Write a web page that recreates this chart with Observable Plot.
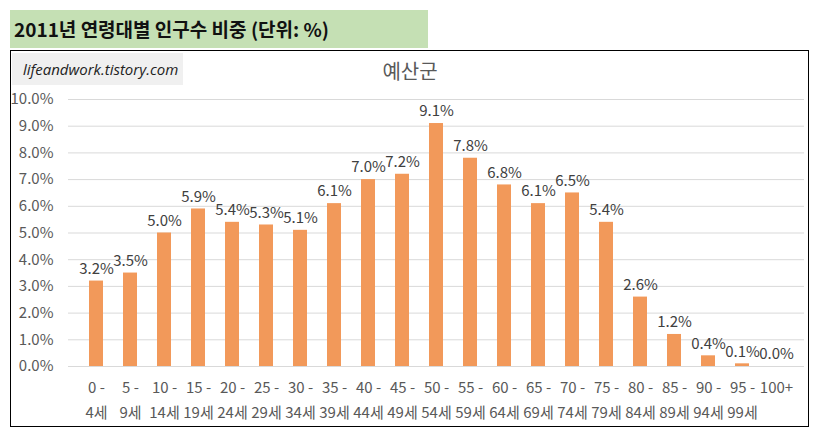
<!DOCTYPE html>
<html>
<head>
<meta charset="utf-8">
<script src="https://cdn.jsdelivr.net/npm/d3@7"></script>
<script src="https://cdn.jsdelivr.net/npm/@observablehq/plot@0.6"></script>
<style>
  html, body { margin: 0; padding: 0; background: #fff; }
  #wrap { position: relative; width: 817px; height: 433px; overflow: hidden; font-family: "Noto Sans CJK KR", "Noto Sans", sans-serif; }
  #title { position: absolute; left: 10px; top: 10px; width: 418px; height: 38px; background: #c5e0b4; font-weight: bold; font-size: 19px; color: #111; line-height: 38px; padding-left: 4px; box-sizing: border-box; }
  #frame { position: absolute; left: 10px; top: 50px; width: 799px; height: 377px; border: 1px solid #000; box-sizing: border-box; pointer-events: none; }
  #wm { position: absolute; left: 12px; top: 53px; width: 171px; height: 32px; background: #f0f0f0; font-family: "Open Sans", sans-serif; font-style: italic; font-size: 15px; color: #222; line-height: 32px; padding-left: 11px; box-sizing: border-box; white-space: nowrap; }
  #ctitle { position: absolute; left: 310px; width: 200px; top: 56px; text-align: center; font-size: 20px; color: #595959; }
  #chart { position: absolute; left: 0; top: 0; }
</style>
</head>
<body>
<div id="wrap">
  <div id="chart"></div>
  <div id="title">2011년 연령대별 인구수 비중 (단위: %)</div>
  <div id="frame"></div>
  <div id="wm">lifeandwork.tistory.com</div>
  <div id="ctitle">예산군</div>
</div>
<script>
const ageGroups = ["0 -\n4세","5 -\n9세","10 -\n14세","15 -\n19세","20 -\n24세","25 -\n29세","30 -\n34세","35 -\n39세","40 -\n44세","45 -\n49세","50 -\n54세","55 -\n59세","60 -\n64세","65 -\n69세","70 -\n74세","75 -\n79세","80 -\n84세","85 -\n89세","90 -\n94세","95 -\n99세","100+"];
const shares = [3.2,3.5,5.0,5.9,5.4,5.3,5.1,6.1,7.0,7.2,9.1,7.8,6.8,6.1,6.5,5.4,2.6,1.2,0.4,0.1,0.0];
const yTicks = [0,1,2,3,4,5,6,7,8,9,10];

const data = ageGroups.map((g, i) => ({group: g, value: shares[i]}));

const chart = Plot.plot({
  width: 817,
  height: 433,
  marginLeft: 68,
  marginRight: 13,
  marginTop: 99,
  marginBottom: 67,
  style: {fontFamily: '"Noto Sans CJK KR", "Noto Sans", sans-serif', fontSize: "15px", color: "#595959", background: "transparent"},
  x: {domain: ageGroups, padding: 0.6, label: null},
  y: {domain: [0, 10], label: null},
  marks: [
    Plot.gridY(yTicks, {stroke: "#d9d9d9", strokeOpacity: 1, strokeWidth: 1}),
    Plot.barY(data, {x: "group", y: "value", fill: "#f2995a"}),
    Plot.text(data, {x: "group", y: "value", text: d => d.value.toFixed(1) + "%", dy: -12, fill: "#404040", fontSize: 15}),
    Plot.axisY(yTicks, {tickSize: 0, tickPadding: 15, tickFormat: d => d.toFixed(1) + "%", fill: "#595959", fontSize: 15}),
    Plot.axisX({tickSize: 0, tickPadding: 9, lineHeight: 1.65, fill: "#595959", fontSize: 15})
  ]
});
document.getElementById("chart").appendChild(chart);
</script>
</body>
</html>
